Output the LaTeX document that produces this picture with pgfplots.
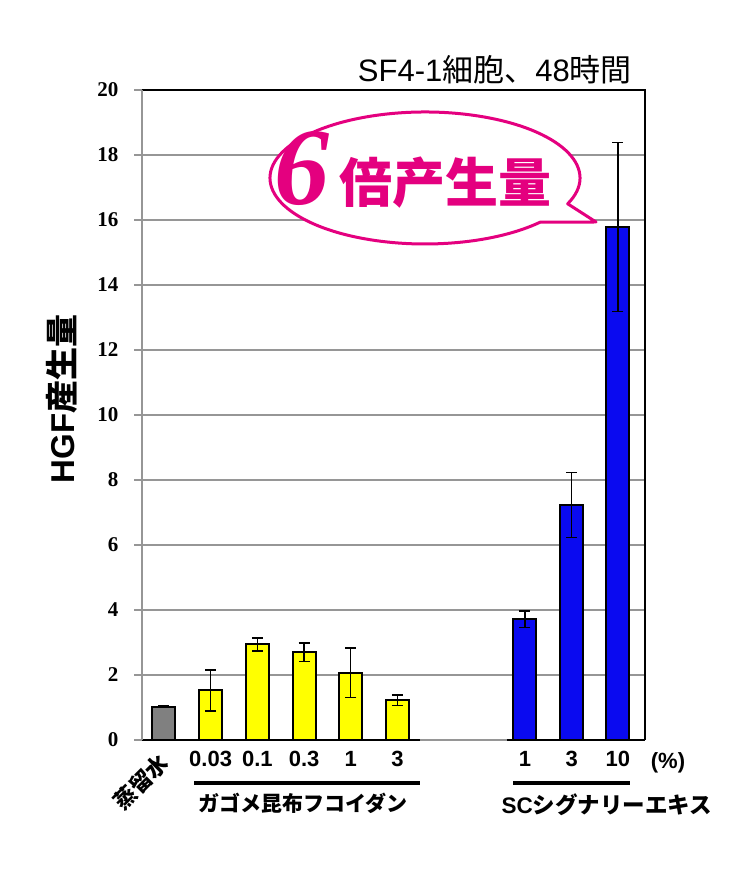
\documentclass[border=0pt]{standalone}
\usepackage{fontspec}
\usepackage{pgfplots}
\pgfplotsset{compat=1.18}
\setmainfont{Liberation Sans}
\newfontfamily\jp{Noto Sans CJK JP}
\newfontfamily\tnr{Liberation Serif}
\definecolor{bubble}{RGB}{228,0,127}
\definecolor{barblue}{RGB}{10,10,240}
\definecolor{bargray}{RGB}{128,128,128}
\definecolor{bary}{RGB}{255,255,0}
\definecolor{gridgray}{RGB}{150,150,150}

\begin{document}
\begin{tikzpicture}
\path[use as bounding box] (0pt,0pt) rectangle (750pt,884pt);
\begin{axis}[
  at={(142pt,144pt)}, anchor=south west,
  scale only axis, width=503pt, height=650pt,
  xmin=-0.47, xmax=10.30, ymin=0, ymax=20,
  clip=false,
  ytick={0,2,...,20},
  ytick pos=left,
  xtick={1,2,3,4,5,7.73,8.73,9.72},
  xticklabels={0.03,0.1,0.3,1,3,1,3,10},
  ymajorgrids, grid style={gridgray, line width=1.5pt},
  axis line style={draw=none},
  tick align=outside,
  major tick length=8pt,
  ytick style={gridgray, line width=1.5pt},
  xtick style={draw=none},
  /pgf/number format/assume math mode=true,
  yticklabel style={font=\tnr\bfseries\fontsize{21}{24}\selectfont, xshift=-12pt},
  xticklabel style={font=\bfseries\fontsize{22}{24}\selectfont},
  error bars/error bar style={line width=1.4pt, black},
  error bars/error mark options={rotate=90, mark size=5.5pt, line width=1.6pt, black},
]
% distilled water
\addplot[ybar, bar width=23pt, bar shift=0pt, draw=black, line width=2pt, fill=bargray,
  error bars/.cd, y dir=both, y explicit] coordinates {
  (0,1.02) +- (0,0.02)
};
% fucoidan
\addplot[ybar, bar width=23pt, bar shift=0pt, draw=black, line width=2pt, fill=bary,
  error bars/.cd, y dir=both, y explicit] coordinates {
  (1,1.53) +- (0,0.63)
  (2,2.94) +- (0,0.20)
  (3,2.70) +- (0,0.28)
  (4,2.07) +- (0,0.76)
  (5,1.22) +- (0,0.16)
};
% SC signaling extract
\addplot[ybar, bar width=23pt, bar shift=0pt, draw=black, line width=2pt, fill=barblue,
  error bars/.cd, y dir=both, y explicit] coordinates {
  (7.73,3.71) +- (0,0.25)
  (8.73,7.23) +- (0,1.00)
  (9.72,15.78) +- (0,2.60)
};
% frame: black top/right/bottom, grey left, grey gap in the bottom line
\draw[black, line width=2.5pt] (rel axis cs:0,1) -- (rel axis cs:1,1) -- (rel axis cs:1,0);
\draw[black, line width=2.5pt] (axis cs:-0.47,0) -- (axis cs:5.48,0);
\draw[gridgray, line width=1.5pt] (axis cs:5.48,0) -- (axis cs:7.34,0);
\draw[black, line width=2.5pt] (axis cs:7.34,0) -- (axis cs:10.30,0);
\draw[gridgray, line width=2pt] (rel axis cs:0,0) -- (rel axis cs:0,1);
\end{axis}

% speech bubble
\draw[bubble, line width=3pt, fill=white, line join=round]
  (425pt,706pt) ++(-23:155pt and 66pt)
  arc[start angle=-23, end angle=318, x radius=155pt, y radius=66pt]
  -- (596pt,662pt) -- cycle;
\node[anchor=base west, inner sep=0pt, text=bubble] at (274pt,679pt)
  {\tnr\bfseries\itshape\fontsize{110}{110}\selectfont 6};
\node[anchor=base west, inner sep=0pt, text=bubble] at (339pt,681pt)
  {\jp\bfseries\fontsize{53}{53}\selectfont 倍产生量};

% title and labels
\node[anchor=base east, inner sep=0pt] at (632pt,802pt)
  {\fontsize{31}{31}\selectfont SF4-1{\jp 細胞、}48{\jp 時間}};
\node[rotate=90, inner sep=0pt] at (62pt,485pt)
  {\bfseries\fontsize{33}{33}\selectfont HGF{\jp 産生量}};
\node[rotate=45, inner sep=0pt] at (141pt,102pt)
  {\jp\bfseries\fontsize{22}{22}\selectfont 蒸留水};
\node[inner sep=0pt] at (668pt,121pt)
  {\bfseries\fontsize{22}{22}\selectfont (\%)};

\draw[line width=4pt] (194pt,101pt) -- (420pt,101pt);
\draw[line width=4pt] (513pt,101pt) -- (630pt,101pt);
\node[inner sep=0pt] at (303pt,81pt)
  {\jp\bfseries\fontsize{21}{21}\selectfont ガゴメ昆布フコイダン};
\node[inner sep=0pt] at (607pt,79pt)
  {\bfseries\fontsize{22.5}{22.5}\selectfont SC{\jp シグナリーエキス}};
\end{tikzpicture}
\end{document}
